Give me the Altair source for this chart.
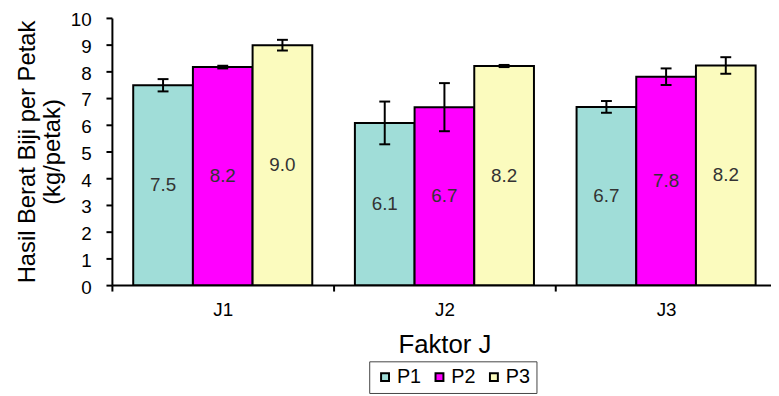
import altair as alt
import pandas as pd

groups = ["J1", "J2", "J3"]
series = ["P1", "P2", "P3"]
# means per group (P1, P2, P3)
means = {
    "J1": [7.48, 8.16, 8.98],
    "J2": [6.07, 6.66, 8.20],
    "J3": [6.67, 7.80, 8.22],
}
errors = {
    "J1": [0.23, 0.05, 0.20],
    "J2": [0.80, 0.90, 0.04],
    "J3": [0.22, 0.31, 0.31],
}
colors = ["#A0DDD8", "#FF00FF", "#FBFBBE"]

rows = []
for g in groups:
    for i, s in enumerate(series):
        m = means[g][i]
        e = errors[g][i]
        rows.append({"J": g, "P": s, "mean": m, "lo": m - e, "hi": m + e,
                     "mid": m / 2, "label": f"{m:.1f}"})
df = pd.DataFrame(rows)

FONT = "Liberation Sans"

x_scale = alt.Scale(range=[0, 672], paddingInner=0, paddingOuter=0)
x_axis = alt.Axis(title="Faktor J", labelAngle=0, tickBand="extent",
                  labelFontSize=19, labelPadding=10, titleFontSize=26,
                  titlePadding=12, tickSize=6, labelColor="#000",
                  titleColor="#000", titleFontWeight="normal")
y_scale = alt.Scale(domain=[0, 10], nice=False)
y_axis = alt.Axis(title=["Hasil Berat Biji per Petak", "(kg/petak)"],
                  values=list(range(0, 11)), grid=False, labelOverlap=False,
                  labelFontSize=19, titleFontSize=24, titleLineHeight=25,
                  titlePadding=6, tickSize=6, labelPadding=15, labelOffset=2,
                  labelColor="#000", titleColor="#000",
                  titleFontWeight="normal")

base = alt.Chart(df).encode(
    x=alt.X("J:N", sort=groups, scale=x_scale, axis=x_axis),
    xOffset=alt.XOffset("P:N", sort=series,
                        scale=alt.Scale(paddingInner=0, paddingOuter=0.357)),
)

bars = base.mark_bar(stroke="black", strokeWidth=2, opacity=1).encode(
    y=alt.Y("mean:Q", scale=y_scale, axis=y_axis),
    color=alt.Color("P:N", sort=series,
                    scale=alt.Scale(domain=series, range=colors),
                    legend=alt.Legend(title=None, orient="none", direction="horizontal",
                                      legendX=260, legendY=347,
                                      strokeColor="#444", padding=6,
                                      symbolType="square", symbolSize=64,
                                      symbolStrokeColor="black", symbolStrokeWidth=2,
                                      symbolOpacity=1,
                                      labelFontSize=20, labelOffset=2,
                                      columnPadding=8, labelColor="#000")),
)

rules = base.mark_rule(color="black", strokeWidth=2).encode(
    y=alt.Y("lo:Q", scale=y_scale, axis=y_axis), y2="hi:Q")
caps_lo = base.mark_tick(color="black", thickness=2, size=11, opacity=1).encode(
    y=alt.Y("lo:Q", scale=y_scale, axis=y_axis))
caps_hi = base.mark_tick(color="black", thickness=2, size=11, opacity=1).encode(
    y=alt.Y("hi:Q", scale=y_scale, axis=y_axis))
texts = base.mark_text(fontSize=19, color="#333", font=FONT).encode(
    y=alt.Y("mid:Q", scale=y_scale, axis=y_axis), text="label:N")

chart = alt.layer(bars, rules, caps_lo, caps_hi, texts).properties(
    width=666, height=270,
    autosize=alt.AutoSizeParams(type="none"),
    padding={"left": 105, "top": 8, "right": 0, "bottom": 108},
).configure(font=FONT).configure_view(stroke=None).configure_axis(
    domainColor="black", domainWidth=2, tickColor="black", tickWidth=2,
    labelFont=FONT, titleFont=FONT,
).configure_legend(labelFont=FONT)

chart.save("out.html", embed_options={"renderer": "svg", "actions": False})
